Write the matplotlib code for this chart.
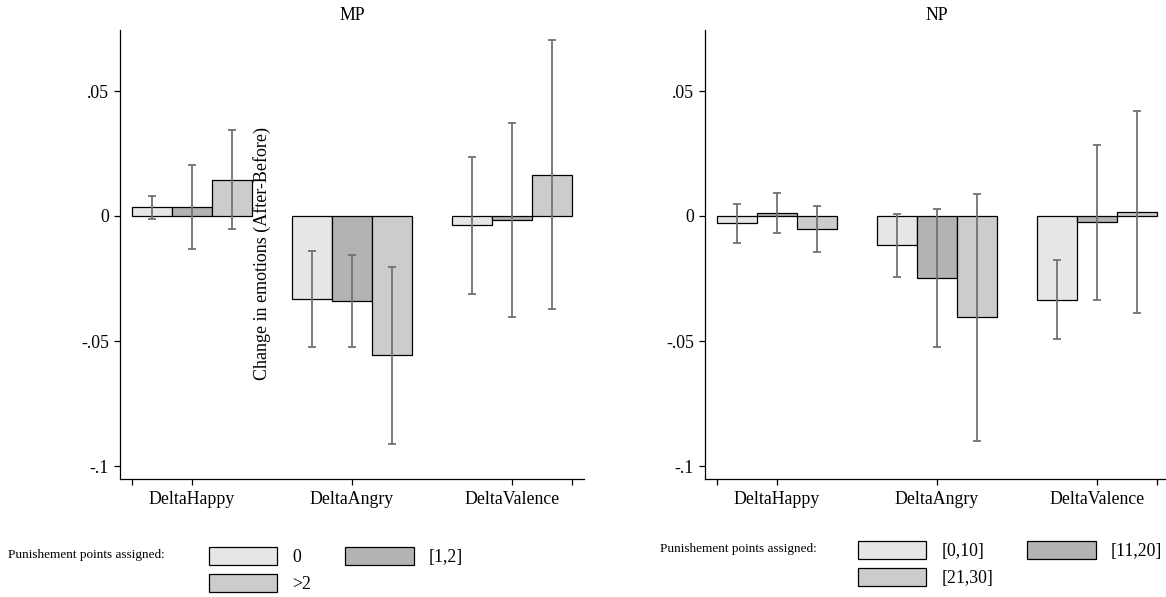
import matplotlib
matplotlib.use("Agg")
import matplotlib.pyplot as plt
import numpy as np
from matplotlib.patches import Patch

plt.rcParams['font.family'] = ['Liberation Serif', 'DejaVu Serif']

categories = ["DeltaHappy", "DeltaAngry", "DeltaValence"]

# MP panel
mp_groups = ["0", "[1,2]", ">2"]
mp_means = [
    [0.0035, -0.0330, -0.0037],   # 0
    [0.0035, -0.0340, -0.0015],   # [1,2]
    [0.0145, -0.0557, 0.0165],    # >2
]
mp_err = [
    [0.0046, 0.0192, 0.0273],
    [0.0168, 0.0185, 0.0387],
    [0.0198, 0.0355, 0.0537],
]

# NP panel
np_groups = ["[0,10]", "[11,20]", "[21,30]"]
np_means = [
    [-0.0028, -0.0117, -0.0334],
    [0.0012, -0.0248, -0.0024],
    [-0.0053, -0.0405, 0.0016],
]
np_err = [
    [0.0078, 0.0125, 0.0157],
    [0.0079, 0.0276, 0.0310],
    [0.0092, 0.0493, 0.0404],
]

colors = ["#e6e6e6", "#b3b3b3", "#cccccc"]
legend_title = "Punishement points assigned:"
ylabel = "Change in emotions (After-Before)"

W, H = 1166, 597
fig = plt.figure(figsize=(W / 100, H / 100), dpi=100)

xmin, xmax = -0.45, 2.45
ymin, ymax = -0.1052, 0.0744


def px_axes(x0, y0, x1, y1):
    return fig.add_axes([x0 / W, 1 - y1 / H, (x1 - x0) / W, (y1 - y0) / H])


def draw_panel(ax, means, errs, title):
    x = np.arange(len(categories))
    width = 0.25
    for i in range(3):
        pos = x + (i - 1) * width
        ax.bar(pos, means[i], width=width, color=colors[i], edgecolor="black",
               linewidth=0.9, zorder=2)
        ax.errorbar(pos, means[i], yerr=errs[i], fmt="none", ecolor="#727272",
                    elinewidth=1.3, capsize=3.2, capthick=1.3, zorder=3)
    ax.set_xlim(xmin, xmax)
    ax.set_ylim(ymin, ymax)
    ax.set_xticks([-0.375, 0, 1, 2, 2.375])
    ax.set_xticklabels(["", categories[0], categories[1], categories[2], ""])
    ax.set_yticks([-0.1, -0.05, 0, 0.05])
    ax.set_yticklabels(["-.1", "-.05", "0", ".05"])
    ax.tick_params(axis="both", direction="out", length=4, width=0.9,
                   labelsize=12.8, pad=4)
    ax.tick_params(axis="x", pad=5)
    for s in ["top", "right"]:
        ax.spines[s].set_visible(False)
    for s in ["left", "bottom"]:
        ax.spines[s].set_linewidth(0.9)
    ax.set_title(title, fontsize=12.8, pad=7)


ax1 = px_axes(120, 30, 584, 479)
draw_panel(ax1, mp_means, mp_err, "MP")
ax2 = px_axes(705, 30, 1169, 479)
draw_panel(ax2, np_means, np_err, "NP")

fig.text(262 / W, 1 - 253 / H, ylabel, rotation=90, fontsize=13,
         ha="center", va="center")


def add_legend(groups, title_xy, anchor_xy):
    handles = [Patch(facecolor=colors[i], edgecolor="black", linewidth=0.9)
               for i in range(3)]
    order = [0, 2, 1]
    fig.legend([handles[i] for i in order], [groups[i] for i in order],
               ncol=2, loc="upper left",
               bbox_to_anchor=(anchor_xy[0] / W, 1 - anchor_xy[1] / H),
               frameon=False, fontsize=12.8, handlelength=3.85,
               handleheight=1.2, handletextpad=0.85, columnspacing=1.9,
               labelspacing=0.42, borderpad=0, borderaxespad=0)
    fig.text(title_xy[0] / W, 1 - title_xy[1] / H, legend_title,
             fontsize=9.5, ha="left", va="center")


add_legend(mp_groups, (8, 555), (209, 547))
add_legend(np_groups, (660, 549), (858, 541))

fig.savefig("out.png", dpi=100)
